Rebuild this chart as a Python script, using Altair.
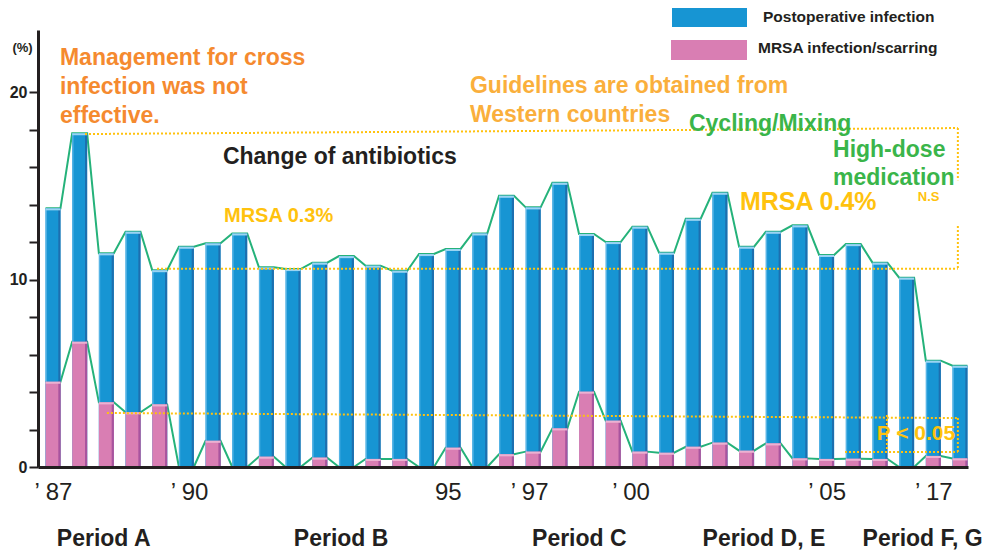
import json
import altair as alt
import pandas as pd

# ---------------- data ----------------
postop = [13.8, 17.8, 11.4, 12.55, 10.5, 11.75, 11.93, 12.46, 10.65, 10.56,
          10.9, 11.25, 10.74, 10.47, 11.36, 11.63, 12.46, 14.47, 13.85, 15.16,
          12.43, 12.0, 12.82, 11.43, 13.24, 14.63, 11.75, 12.55, 12.89, 11.31,
          11.89, 10.9, 10.1, 5.67, 5.4]
mrsa = [4.55, 6.68, 3.45, 2.92, 3.34, 0, 1.40, 0, 0.55, 0,
        0.5, 0, 0.43, 0.43, 0, 1.03, 0, 0.68, 0.82, 2.06,
        4.02, 2.47, 0.82, 0.76, 1.08, 1.30, 0.87, 1.26, 0.46, 0.43,
        0.44, 0.43, 0, 0.59, 0.46]
year_ticks = [0, 5.1, 14.8, 17.85, 21.65, 29, 33]
year_labels = ["\u2019 87", "\u2019 90", "95", "\u2019 97", "\u2019 00", "\u2019 05", "\u2019 17"]
periods = ["Period A", "Period B", "Period C", "Period D, E", "Period F, G"]
period_at = [1.9, 10.8, 19.73, 26.65, 32.6]
y_ticks = list(range(0, 21, 2))
series = ["Postoperative infection", "MRSA infection/scarring"]

# ---------------- styles ----------------
FONT = "Liberation Sans"
DARK = "#231F20"
BLUE, BLUE_DARK, BLUE_LIGHT, BLUE_CAP = "#1795D3", "#1D6FAF", "#55B4E6", "#9AD4F2"
PINK, PINK_DARK, PINK_CAP = "#D97EB3", "#A8549E", "#ECB2D2"
GREEN_LINE = "#25B27A"
GREEN_TXT = "#3AB54A"
ORANGE = "#F58A2F"
ORANGE2 = "#FAAF3C"
YELLOW = "#FFC20E"
HALF = 0.28

df = pd.DataFrame({"i": list(range(len(postop))), "postop": postop, "mrsa": mrsa})

XS = alt.Scale(domain=[-0.562, 34.3], nice=False, zero=False)
YS = alt.Scale(domain=[0, 23.31], nice=False, zero=False)

x_axis = alt.Axis(
    values=year_ticks,
    labelExpr=f"{json.dumps(year_labels)}[indexof({json.dumps(year_ticks)}, datum.value)]",
    ticks=False, tickSize=0, grid=False, domainColor=DARK, domainWidth=3,
    labelFont=FONT, labelFontSize=24, labelColor=DARK, labelPadding=13,
    labelFlush=False, labelOverlap=False, title=None, zindex=1)
y_axis = alt.Axis(
    values=y_ticks, labelExpr="datum.value % 10 === 0 ? datum.label : ''",
    grid=False, domainColor=DARK, domainWidth=3, tickColor=DARK, tickWidth=2,
    tickSize=9, labelFont=FONT, labelFontSize=16, labelFontWeight="bold",
    labelColor=DARK, labelPadding=2, title="(%)", titleAngle=0, titleX=-16,
    titleY=17, titleAlign="center", titleBaseline="middle", titleFont=FONT,
    titleFontSize=13, titleFontWeight="bold", titleColor=DARK, zindex=1)


def xq(field):
    return alt.X(field, type="quantitative", scale=XS, axis=x_axis)


def yq(field):
    return alt.Y(field, type="quantitative", scale=YS, axis=y_axis)


def xd(v):
    return alt.XDatum(v, type="quantitative", scale=XS, axis=x_axis)


def yd(v):
    return alt.YDatum(v, type="quantitative", scale=YS, axis=y_axis)


ONE = alt.Data(values=[{}])

bars = alt.Chart(df).transform_calculate(
    x0=f"datum.i - {HALF}", x1=f"datum.i + {HALF}",
    xr=f"datum.i + {HALF} - 0.08", xl=f"datum.i - {HALF} + 0.05",
    bcap="datum.postop - 0.11", pcap="datum.mrsa - 0.11")

# green connecting lines (through top corners of each bar)
line_base = alt.Chart(df).transform_calculate(
    off=f"[-{HALF}, {HALF}]").transform_flatten(["off"]).transform_calculate(
    xx="datum.i + datum.off")
blue_line = line_base.mark_line(color=GREEN_LINE, strokeWidth=2).encode(
    x=xq("xx"), y=yq("postop"), order="xx:Q")
pink_line = line_base.mark_line(color=GREEN_LINE, strokeWidth=2).encode(
    x=xq("xx"), y=yq("mrsa"), order="xx:Q")

blue_bar = bars.mark_rect(color=BLUE).encode(
    x=xq("x0"), x2="x1:Q", y=yq("postop"), y2=alt.Y2Datum(0))
blue_r = bars.mark_rect(color=BLUE_DARK).encode(
    x=xq("xr"), x2="x1:Q", y=yq("postop"), y2=alt.Y2Datum(0))
blue_l = bars.mark_rect(color=BLUE_LIGHT).encode(
    x=xq("x0"), x2="xl:Q", y=yq("postop"), y2=alt.Y2Datum(0))
blue_c = bars.mark_rect(color=BLUE_CAP).encode(
    x=xq("x0"), x2="x1:Q", y=yq("postop"), y2="bcap:Q")

pink_bars = bars.transform_filter("datum.mrsa > 0")
pink_bar = pink_bars.mark_rect(color=PINK).encode(
    x=xq("x0"), x2="x1:Q", y=yq("mrsa"), y2=alt.Y2Datum(0))
pink_r = pink_bars.mark_rect(color=PINK_DARK).encode(
    x=xq("xr"), x2="x1:Q", y=yq("mrsa"), y2=alt.Y2Datum(0))
pink_c = pink_bars.mark_rect(color=PINK_CAP).encode(
    x=xq("x0"), x2="x1:Q", y=yq("mrsa"), y2="pcap:Q")


def dotted(x, y, x2=None, y2=None):
    enc = dict(x=xd(x), y=yd(y))
    if x2 is not None:
        enc["x2"] = alt.X2Datum(x2)
    if y2 is not None:
        enc["y2"] = alt.Y2Datum(y2)
    return alt.Chart(ONE).mark_rule(color=YELLOW, strokeWidth=2,
                                    strokeDash=[2, 2]).encode(**enc)


dots = [
    dotted(1.2, 17.76, 33.92, 18.08),
    dotted(33.92, 18.08, y2=15.3),
    dotted(33.92, 12.85, y2=10.58),
    dotted(3.9, 10.58, 33.92, 10.58),
    dotted(2.02, 2.88, 33.92, 2.61),
    dotted(33.92, 2.61, y2=0.8),
    dotted(29.69, 0.8, 33.92, 0.8),
    dotted(31.26, 2.77, y2=0.91),
]


def note(text, x, y, color, size, lh=None, weight="bold"):
    kw = dict(text=text, align="left", baseline="alphabetic", font=FONT,
              fontWeight=weight, fontSize=size, color=color)
    if lh:
        kw["lineHeight"] = lh
    return alt.Chart(ONE).mark_text(**kw).encode(x=xd(x), y=yd(y))


notes = [
    note(["Management for cross", "infection was not", "effective."], 0.26, 21.44, ORANGE, 23, 29),
    note(["Guidelines are obtained from", "Western countries"], 15.63, 19.95, ORANGE2, 23, 29),
    note("Cycling/Mixing", 23.84, 17.92, GREEN_TXT, 23),
    note(["High-dose", "medication"], 29.24, 16.53, GREEN_TXT, 23, 28),
    note("Change of antibiotics", 6.37, 16.16, DARK, 23),
    note("MRSA 0.3%", 6.41, 13.07, YELLOW, 20),
    note("MRSA 0.4%", 25.75, 13.73, YELLOW, 25),
    note("N.S", 32.42, 14.2, YELLOW, 13),
    note("P < 0.05", 30.88, 1.44, YELLOW, 21),
]

period_df = pd.DataFrame({"p": periods, "at": period_at})
period_text = alt.Chart(period_df).mark_text(
    align="center", baseline="alphabetic", font=FONT, fontWeight="bold",
    fontSize=23, color=DARK).encode(x=xq("at"), y=alt.value(516), text="p:N")

legend = [
    alt.Chart(ONE).mark_rect(color=BLUE).encode(
        x=alt.value(634), x2=alt.value(709), y=alt.value(-22), y2=alt.value(-3)),
    alt.Chart(ONE).mark_rect(color=PINK).encode(
        x=alt.value(633), x2=alt.value(709), y=alt.value(10), y2=alt.value(30)),
    alt.Chart(ONE).mark_text(text=series[0], align="left", baseline="middle",
                             font=FONT, fontWeight="bold", fontSize=15.5,
                             color=DARK).encode(x=alt.value(725), y=alt.value(-13)),
    alt.Chart(ONE).mark_text(text=series[1], align="left", baseline="middle",
                             font=FONT, fontWeight="bold", fontSize=15.5,
                             color=DARK).encode(x=alt.value(720), y=alt.value(18)),
]

chart = alt.layer(
    blue_line, pink_line,
    blue_bar, blue_l, blue_r, blue_c,
    pink_bar, pink_r, pink_c,
    *dots, *notes, period_text, *legend,
).properties(
    width=930, height=437,
    padding={"left": 30, "top": 22, "right": 16, "bottom": 83},
    autosize=alt.AutoSizeParams(type="none"),
    background="white",
).configure_view(stroke=None)

chart.save("out.html", embed_options={"renderer": "svg", "actions": False})
